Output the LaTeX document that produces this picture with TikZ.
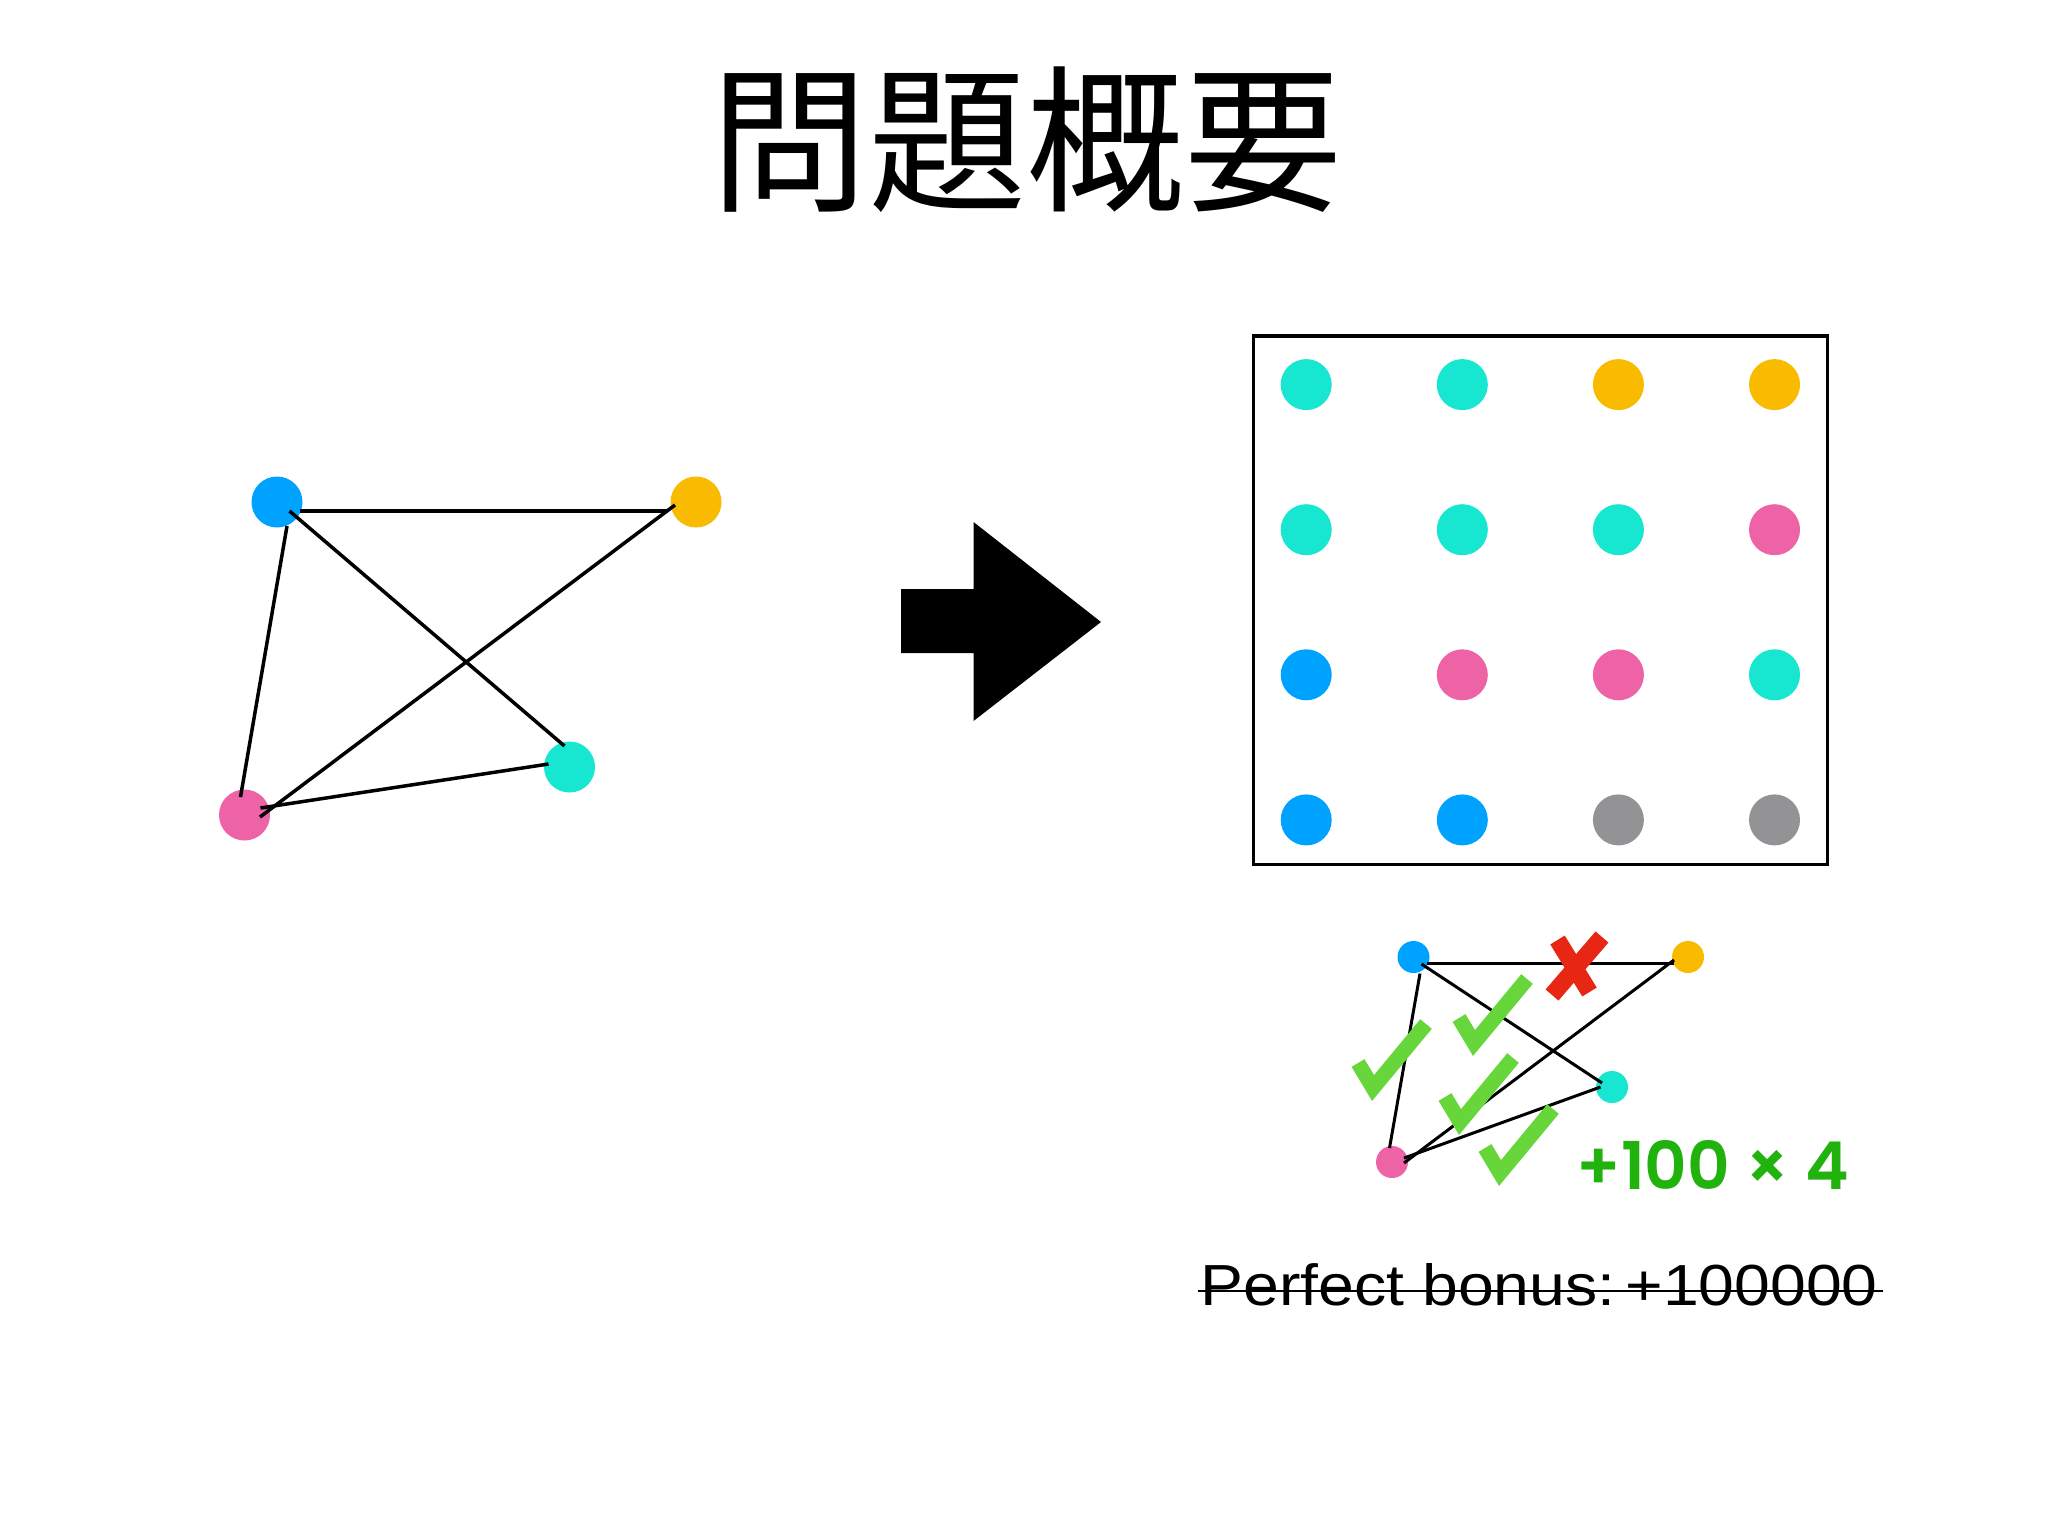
\documentclass[tikz,border=0pt]{standalone}
\usepackage{fontspec}
\usepackage{tikz}
\usetikzlibrary{calc}
\newfontfamily\jpfont{Noto Sans CJK JP}
\newfontfamily\scorefont{Poppins SemiBold}
\newfontfamily\bonusfont{Liberation Sans}
\definecolor{DotBlue}{HTML}{00A2FF}
\definecolor{DotAmber}{HTML}{F8BB00}
\definecolor{DotCyan}{HTML}{17E6D0}
\definecolor{DotPink}{HTML}{EE62A6}
\definecolor{DotGray}{HTML}{939294}
\definecolor{TickGreen}{HTML}{67D63A}
\definecolor{CrossRed}{HTML}{E82614}
\definecolor{ScoreGreen}{HTML}{22B20E}
\newcommand{\tickmark}[1]{%
  \draw[TickGreen,line width=7.5pt] (#1) ++(-15,-25) -- ++(15,25) -- ++(53,-64);%
}

\begin{document}
\begin{tikzpicture}[x=0.5pt,y=-0.5pt,
    bigdot/.style={circle,inner sep=0pt,minimum size=25.5pt},
    griddot/.style={circle,inner sep=0pt,minimum size=25.5pt},
    minidot/.style={circle,inner sep=0pt,minimum size=16pt},
    link/.style={line width=1.75pt},
    minilink/.style={line width=1.5pt}]
    \fill[white] (0,0) rectangle (2048,1536);
    \useasboundingbox (0,0) rectangle (2048,1536);

    % title
    \node (title) at (1026,139.5) {\jpfont\fontsize{79}{84}\selectfont 問題概要};

    % input graph
    \node[bigdot,fill=DotBlue] (inBlue) at (277,502) {};
    \node[bigdot,fill=DotAmber] (inAmber) at (696,502) {};
    \node[bigdot,fill=DotCyan] (inCyan) at (569.5,767) {};
    \node[bigdot,fill=DotPink] (inPink) at (244.5,815) {};
    \draw[link] ($(inBlue)+(23,9)$) -- ($(inAmber)+(-28.5,9)$);
    \draw[link] ($(inBlue)+(12.5,9)$) -- ($(inCyan)+(-5,-21)$);
    \draw[link] ($(inBlue)+(10,24)$) -- ($(inPink)+(-4,-18)$);
    \draw[link] ($(inAmber)+(-21,3)$) -- ($(inPink)+(15.5,2)$);
    \draw[link] ($(inCyan)+(-21,-3)$) -- ($(inPink)+(16,-7)$);

    % big arrow
    \fill (901,589) -- (973.5,589) -- (973.5,522) -- (1101,622) -- (973.5,721) -- (973.5,653) -- (901,653) -- cycle;

    % coloured board
    \node[draw,line width=1.6pt,inner sep=0pt,minimum width=287pt,minimum height=264.3pt] (board) at (1540.4,600.3) {};
    \foreach \row [count=\j from 0] in {{DotCyan,DotCyan,DotAmber,DotAmber},{DotCyan,DotCyan,DotCyan,DotPink},{DotBlue,DotPink,DotPink,DotCyan},{DotBlue,DotBlue,DotGray,DotGray}}
      \foreach \col [count=\i from 0] in \row
        \node[griddot,fill=\col] (cell\j\i) at ({1306.2+156.1*\i},{384.6+145.1*\j}) {};

    % scored graph
    \node[minidot,fill=DotBlue] (outBlue) at (1413.5,957) {};
    \node[minidot,fill=DotAmber] (outAmber) at (1688,957) {};
    \node[minidot,fill=DotCyan] (outCyan) at (1612,1087) {};
    \node[minidot,fill=DotPink] (outPink) at (1392,1162) {};
    \draw[minilink] ($(outBlue)+(13.5,6)$) -- ($(outAmber)+(-14.3,6)$);
    \draw[minilink] ($(outBlue)+(8,7)$) -- ($(outCyan)+(-10,-4)$);
    \draw[minilink] ($(outBlue)+(6.5,16.5)$) -- ($(outPink)+(-2.5,-14)$);
    \draw[minilink] ($(outAmber)+(-14,3)$) -- ($(outPink)+(12,1)$);
    \draw[minilink] ($(outCyan)+(-11.5,0)$) -- ($(outPink)+(12,-4)$);

    % marks
    \draw[CrossRed,line width=8.5pt] (1557.5,940) -- (1589.5,992);
    \draw[CrossRed,line width=8.5pt] (1602,937) -- (1552,995);
    \tickmark{1373,1088}
    \tickmark{1474,1043}
    \tickmark{1460,1122}
    \tickmark{1500,1173}

    \node[ScoreGreen,anchor=base] (score) at (1713,1189) {\scorefont\fontsize{33}{36}\selectfont +100 × 4};
    \node[anchor=base,inner sep=0pt] (bonus) at (1539.3,1305) {\bonusfont\resizebox{338.5pt}{21pt}{Perfect bonus:\kern-0.12em\ +100000}};
    \draw[line width=1pt] ([xshift=-1.2pt,yshift=7pt]bonus.base west) -- ([xshift=2.3pt,yshift=7pt]bonus.base east);
\end{tikzpicture}
\end{document}
